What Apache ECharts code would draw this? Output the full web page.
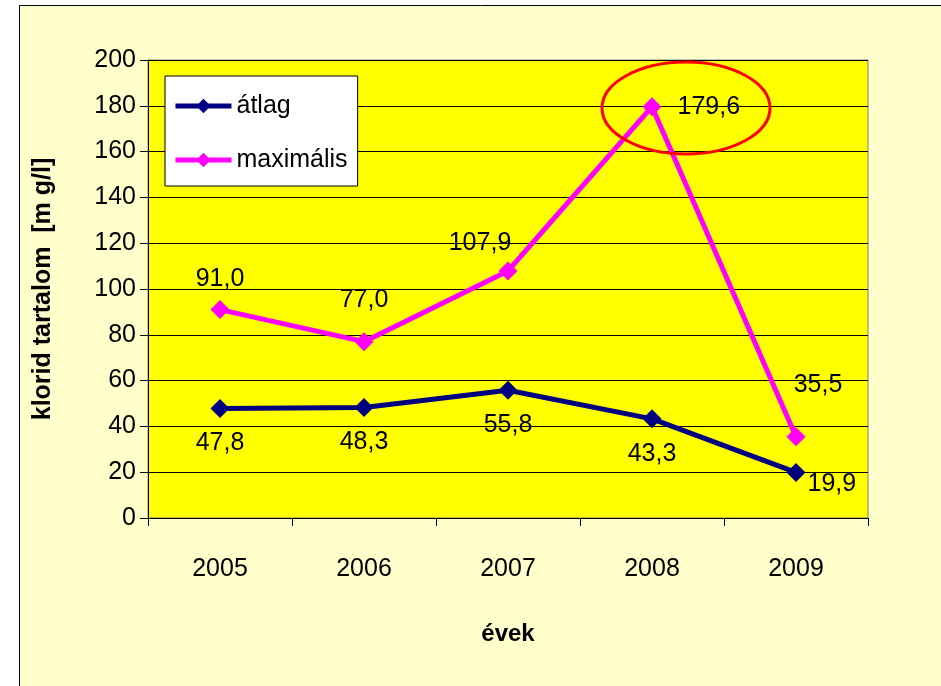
<!DOCTYPE html>
<html>
	<head>
		<meta charset="utf-8">
		<title>klorid tartalom</title>
		<style type="text/css">
			html, body {
				margin: 0;
				padding: 0;
				background: #fff;
			}

			#chart {
				width: 941px;
				height: 686px;
			}
		</style>
	</head>
	<body>
		<div id="chart"></div>

		<script src="https://cdn.jsdelivr.net/npm/echarts@6/dist/echarts.min.js"></script>
		<script>
			// adatok
			var years = ['2005', '2006', '2007', '2008', '2009'];
			var atlag = [47.8, 48.3, 55.8, 43.3, 19.9];
			var maximalis = [91.0, 77.0, 107.9, 179.6, 35.5];

			var font = '"Liberation Sans Narrow", "Liberation Sans", Arial, sans-serif';
			var fs = 25;

			// címkék helye pontonként
			var atlagLabel = [
				{ position: 'bottom', distance: 13 },
				{ position: 'bottom', distance: 13 },
				{ position: 'bottom', distance: 13 },
				{ position: 'bottom', distance: 13 },
				{ position: 'right', offset: [-4, 12], distance: 6 }
			];
			var maxLabel = [
				{ position: 'top', distance: 9 },
				{ position: 'top', distance: 20 },
				{ position: 'top', offset: [-28, 0], distance: 6 },
				{ position: 'right', offset: [8, 0], distance: 8 },
				{ position: 'top', offset: [22, -24], distance: 6 }
			];

			function fmt(p) {
				return p.value.toFixed(1).replace('.', ',');
			}

			function withLabels(values, labels) {
				return values.map(function (v, i) {
					return { value: v, label: labels[i] };
				});
			}

			var myChart = echarts.init(document.getElementById('chart'));

			var option = {
				animation: false,
				backgroundColor: '#fff',
				textStyle: {
					fontFamily: font
				},
				graphic: [{
					type: 'rect',
					shape: { x: 19.5, y: 5.5, width: 960, height: 720 },
					style: { fill: '#FFFFCC', stroke: '#000', lineWidth: 1 },
					z: -10
				}, {
					type: 'ellipse',
					shape: { cx: 686, cy: 108, rx: 84, ry: 46 },
					style: { fill: null, stroke: '#FF0000', lineWidth: 3 },
					z: 100
				}],
				color: ['#000080', '#FF00FF'],
				legend: {
					orient: 'vertical',
					left: 165,
					top: 76,
					padding: [17, 10, 13, 8],
					itemGap: 28,
					itemWidth: 56,
					itemHeight: 18,
					backgroundColor: '#fff',
					borderColor: '#000',
					borderWidth: 1,
					borderRadius: 0,
					lineStyle: { width: 5 },
					textStyle: {
						fontFamily: font,
						fontSize: fs,
						lineHeight: 26,
						color: '#000'
					},
					data: ['átlag', 'maximális']
				},
				grid: {
					left: 148,
					right: 73,
					top: 60,
					bottom: 168,
					show: true,
					backgroundColor: '#FFFF00',
					borderColor: '#808080',
					borderWidth: 1
				},
				xAxis: {
					type: 'category',
					data: years,
					boundaryGap: true,
					name: 'évek',
					nameLocation: 'middle',
					nameGap: 104,
					nameTextStyle: {
						fontFamily: 'Arial, "Liberation Sans", sans-serif',
						fontWeight: 'bold',
						fontSize: 24,
						color: '#000'
					},
					axisLine: { lineStyle: { color: '#000', width: 1 } },
					axisTick: { show: true, length: 8, alignWithLabel: false, lineStyle: { color: '#000' } },
					axisLabel: {
						margin: 39,
						fontSize: fs,
						color: '#000'
					}
				},
				yAxis: {
					type: 'value',
					min: 0,
					max: 200,
					interval: 20,
					name: 'klorid tartalom  [m g/l]',
					nameLocation: 'middle',
					nameGap: 92,
					nameTextStyle: {
						fontFamily: 'Arial, "Liberation Sans", sans-serif',
						fontWeight: 'bold',
						fontSize: 25,
						color: '#000'
					},
					axisLine: { show: true, lineStyle: { color: '#000', width: 1 } },
					axisTick: { show: true, length: 8, lineStyle: { color: '#000' } },
					axisLabel: {
						margin: 12,
						fontSize: fs,
						color: '#000'
					},
					splitLine: { show: true, lineStyle: { color: '#000', width: 1 } }
				},
				series: [{
					name: 'átlag',
					type: 'line',
					data: withLabels(atlag, atlagLabel),
					symbol: 'diamond',
					symbolSize: 19,
					lineStyle: { width: 5 },
					label: {
						show: true,
						formatter: fmt,
						fontSize: fs,
						color: '#000',
						fontFamily: font
					}
				}, {
					name: 'maximális',
					type: 'line',
					data: withLabels(maximalis, maxLabel),
					symbol: 'diamond',
					symbolSize: 19,
					lineStyle: { width: 5 },
					label: {
						show: true,
						formatter: fmt,
						fontSize: fs,
						color: '#000',
						fontFamily: font
					}
				}]
			};

			myChart.setOption(option);
		</script>
	</body>
</html>
